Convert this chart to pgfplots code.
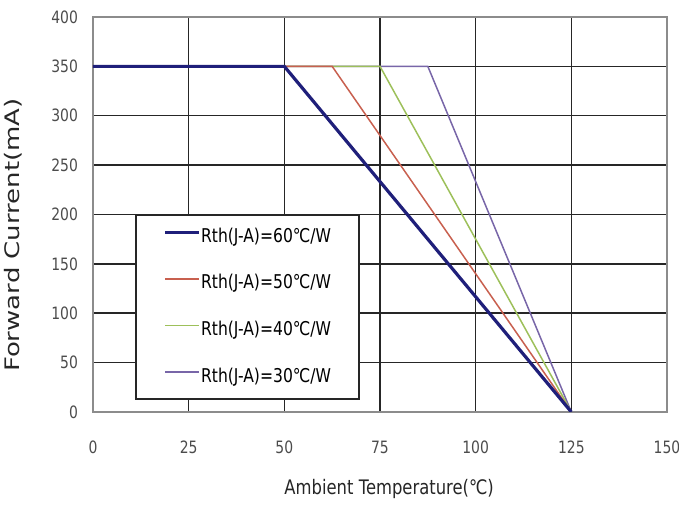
\documentclass[border=0pt]{standalone}
\usepackage{fontspec}
\setmainfont{DejaVu Sans}[FakeStretch=0.82]
\newfontfamily\ylabfont{DejaVu Sans}[FakeStretch=1.3]
\usepackage{pgfplots}
\pgfplotsset{compat=1.18}
\definecolor{c60}{HTML}{1F1F7A}
\definecolor{c50}{HTML}{C8604F}
\definecolor{c40}{HTML}{9DC05A}
\definecolor{c30}{HTML}{7866A8}
\begin{document}
\begin{tikzpicture}
\begin{axis}[
  scale only axis, width=287pt, height=197.5pt,
  xmin=0, xmax=150, ymin=0, ymax=400,
  xtick={0,25,...,150}, ytick={0,50,...,400},
  grid=major, grid style={black!85, line width=0.75pt},
  axis line style={black!45, line width=1pt},
  major tick length=0pt,
  tick label style={font=\fontsize{8.5}{10}\selectfont, text=black!70},
  /pgf/number format/assume math mode=true,
  xticklabel style={yshift=-11pt},
  yticklabel style={xshift=-4pt},
  reverse legend,
  legend style={at={(axis cs:11,200)}, anchor=north west, draw=black!85, line width=0.8pt, fill=white,
    font=\fontsize{9.5}{11}\selectfont, inner xsep=14pt, inner ysep=6pt, row sep=13.3pt,
    nodes={inner sep=0pt, text height=7.5pt, text depth=2.5pt}},
  legend cell align=left,
  legend image code/.code={\draw[#1] (0pt,2.5pt) -- (17pt,2.5pt);},
]
\addplot[c30, line width=0.75pt, mark=none] coordinates {(0,350) (87.5,350) (125,0)};
\addlegendentry{Rth(J-A)=30℃/W}
\addplot[c40, line width=0.75pt, mark=none] coordinates {(0,350) (75,350) (125,0)};
\addlegendentry{Rth(J-A)=40℃/W}
\addplot[c50, line width=0.75pt, mark=none] coordinates {(0,350) (62.5,350) (125,0)};
\addlegendentry{Rth(J-A)=50℃/W}
\addplot[c60, line width=1.6pt, mark=none] coordinates {(0,350) (50,350) (125,0)};
\addlegendentry{Rth(J-A)=60℃/W}
\coordinate (O) at (rel axis cs:0,0);
\coordinate (YL) at (rel axis cs:0,0.448);
\coordinate (XL) at (rel axis cs:0.516,0);
\end{axis}
\node[rotate=90, anchor=base, font=\ylabfont\fontsize{10}{12}\selectfont, text=black!85] at ([xshift=-36.5pt]YL) {Forward Current(mA)};
\node[anchor=base, font=\fontsize{10}{12}\selectfont, text=black!85] at ([yshift=-41.5pt]XL) {Ambient Temperature(℃)};
\pgfresetboundingbox
\path[use as bounding box] ([shift={(-46.5pt,-47pt)}]O) rectangle ++(339.5pt,253pt);
\end{tikzpicture}
\end{document}
